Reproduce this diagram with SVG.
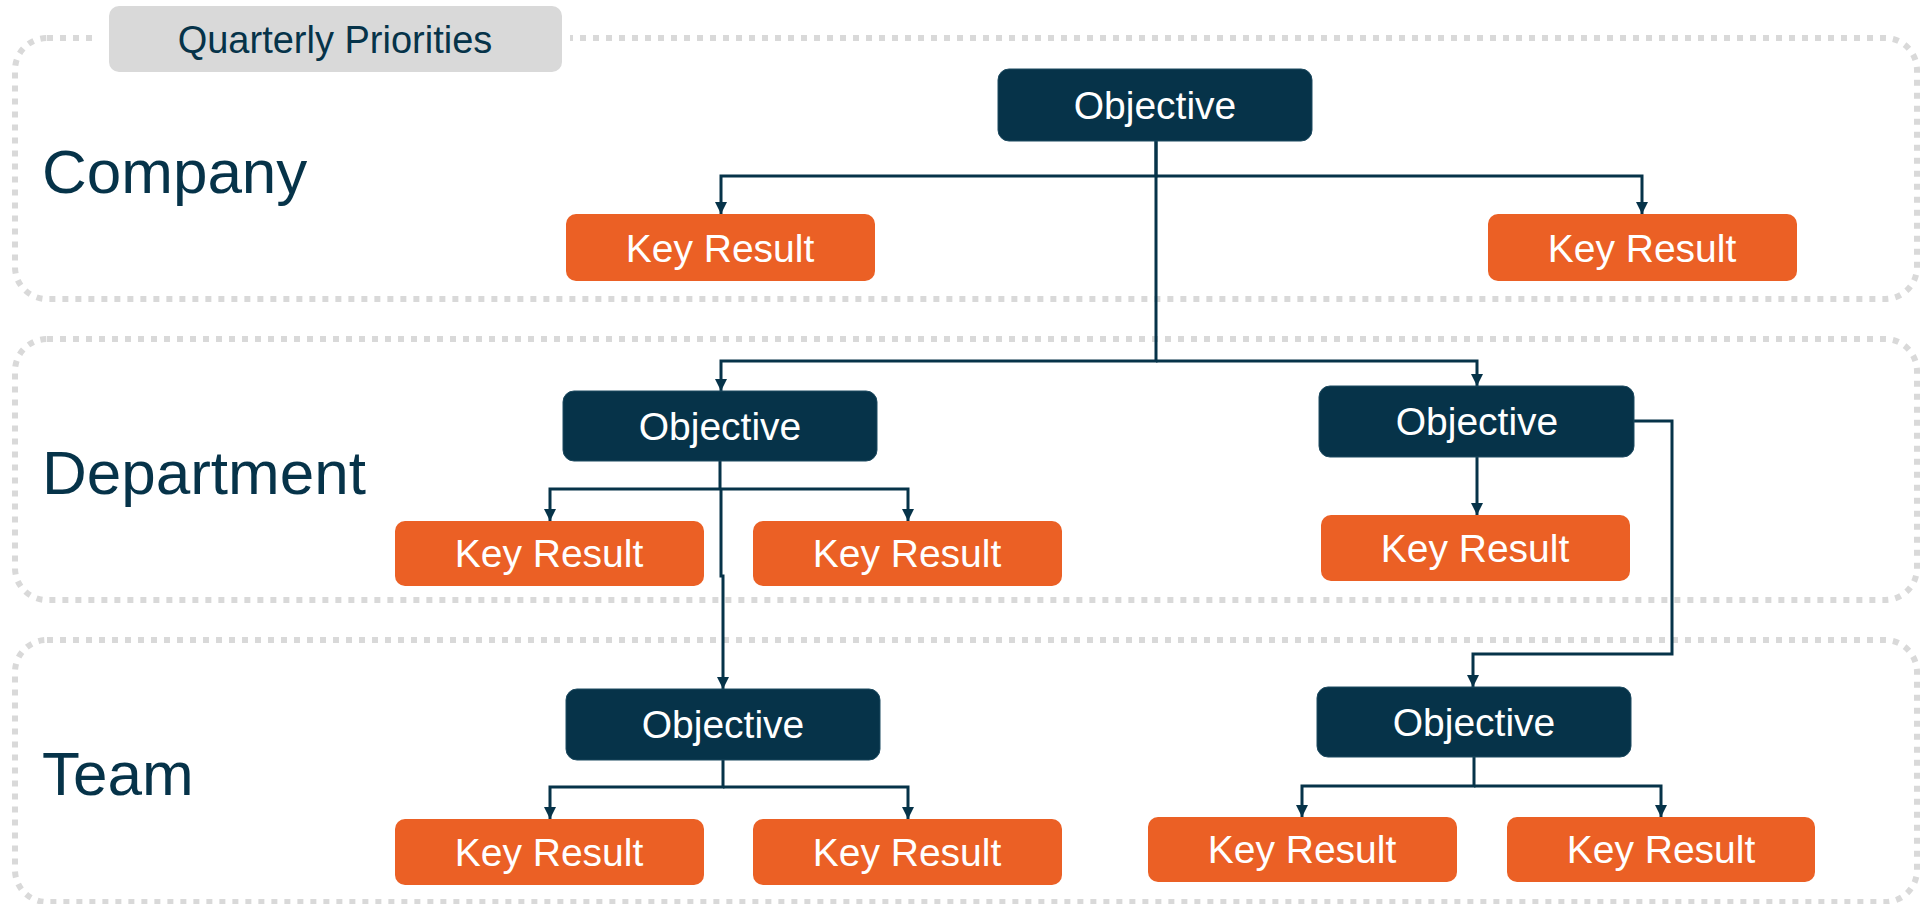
<svg xmlns="http://www.w3.org/2000/svg" width="1931" height="904" viewBox="0 0 1931 904">
<style>
.panel{fill:none;stroke:#d9d9d9;stroke-width:6;stroke-dasharray:6 7}
.obj{fill:#063349;stroke:#1d4a60;stroke-width:1}
.kr{fill:#eb6025}
.nt{font-family:"Liberation Sans",Arial,sans-serif;font-size:39px;fill:#ffffff;text-anchor:middle}
.lbl{font-family:"Liberation Sans",Arial,sans-serif;font-size:62px;fill:#063349}
.conn path{fill:none;stroke:#063349;stroke-width:3;marker-end:url(#arr)}
</style>
<defs>
<marker id="arr" viewBox="0 0 10 10" refX="10" refY="5" markerWidth="12" markerHeight="12" markerUnits="userSpaceOnUse" orient="auto">
<path d="M0,0 L10,5 L0,10 Z" fill="#063349"/>
</marker>
</defs>
<rect width="1931" height="904" fill="#ffffff"/>
<g id="panels">
<rect class="panel" x="15" y="38" width="1902" height="261" rx="32"/>
<rect class="panel" x="15" y="339" width="1902" height="261" rx="32"/>
<rect class="panel" x="15" y="640" width="1902" height="262" rx="32"/>
</g>
<g id="title">
<rect x="99" y="2" width="471" height="74" fill="#ffffff"/>
<rect x="109" y="6" width="453" height="66" rx="10" fill="#d9d9d9"/>
<text x="335" y="53" font-family="Liberation Sans, Arial, sans-serif" font-size="38" fill="#063349" text-anchor="middle">Quarterly Priorities</text>
</g>
<g id="labels">
<text class="lbl" x="42" y="193">Company</text>
<text class="lbl" x="42" y="494">Department</text>
<text class="lbl" x="42" y="795">Team</text>
</g>
<g class="conn" id="connectors">
<path d="M1156,141 V176 H721 V214"/>
<path d="M1156,176 H1642 V214"/>
<path d="M1156,141 V361 H721 V391"/>
<path d="M1156,361 H1477 V386"/>
<path d="M720,461 V489 H550 V521"/>
<path d="M720,489 H908 V521"/>
<path d="M721,489 V576 H723 V689"/>
<path d="M723,760 V787 H550 V819"/>
<path d="M723,787 H908 V819"/>
<path d="M1477,457 V515"/>
<path d="M1634,421 H1672 V654 H1473 V687"/>
<path d="M1474,757 V786 H1302 V817"/>
<path d="M1474,786 H1661 V817"/>
</g>
<g id="obj-company"><rect class="obj" x="998" y="69" width="314" height="72" rx="11"/><text class="nt" x="1155" y="119">Objective</text></g>
<g id="kr-company-1"><rect class="kr" x="566" y="214" width="309" height="67" rx="10"/><text class="nt" x="720" y="262">Key Result</text></g>
<g id="kr-company-2"><rect class="kr" x="1488" y="214" width="309" height="67" rx="10"/><text class="nt" x="1642" y="262">Key Result</text></g>
<g id="obj-dept-1"><rect class="obj" x="563" y="391" width="314" height="70" rx="11"/><text class="nt" x="720" y="440">Objective</text></g>
<g id="kr-dept-1"><rect class="kr" x="395" y="521" width="309" height="65" rx="10"/><text class="nt" x="549" y="567">Key Result</text></g>
<g id="kr-dept-2"><rect class="kr" x="753" y="521" width="309" height="65" rx="10"/><text class="nt" x="907" y="567">Key Result</text></g>
<g id="obj-dept-2"><rect class="obj" x="1319" y="386" width="315" height="71" rx="11"/><text class="nt" x="1477" y="435">Objective</text></g>
<g id="kr-dept-3"><rect class="kr" x="1321" y="515" width="309" height="66" rx="10"/><text class="nt" x="1475" y="562">Key Result</text></g>
<g id="obj-team-1"><rect class="obj" x="566" y="689" width="314" height="71" rx="11"/><text class="nt" x="723" y="738">Objective</text></g>
<g id="kr-team-1"><rect class="kr" x="395" y="819" width="309" height="66" rx="10"/><text class="nt" x="549" y="866">Key Result</text></g>
<g id="kr-team-2"><rect class="kr" x="753" y="819" width="309" height="66" rx="10"/><text class="nt" x="907" y="866">Key Result</text></g>
<g id="obj-team-2"><rect class="obj" x="1317" y="687" width="314" height="70" rx="11"/><text class="nt" x="1474" y="736">Objective</text></g>
<g id="kr-team-3"><rect class="kr" x="1148" y="817" width="309" height="65" rx="10"/><text class="nt" x="1302" y="863">Key Result</text></g>
<g id="kr-team-4"><rect class="kr" x="1507" y="817" width="308" height="65" rx="10"/><text class="nt" x="1661" y="863">Key Result</text></g>
</svg>
